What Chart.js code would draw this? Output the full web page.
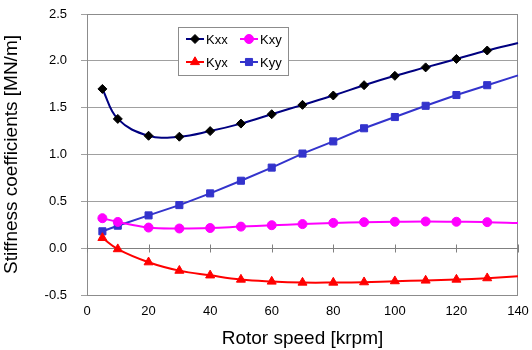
<!DOCTYPE html>
<html>
<head>
<meta charset="utf-8">
<script src="https://cdn.jsdelivr.net/npm/chart.js@4/dist/chart.umd.min.js"></script>
<style>
  html, body { margin: 0; padding: 0; background: #fff; }
  #wrap { width: 532px; height: 350px; position: relative; }
</style>
</head>
<body>
<div id="wrap"><canvas id="c"></canvas></div>
<script>
// Rotor speed [krpm] and stiffness coefficients [MN/m]
const speeds = [5, 10, 20, 30, 40, 50, 60, 70, 80, 90, 100, 110, 120, 130, 140];
const kxx = [1.70, 1.38, 1.20, 1.19, 1.25, 1.33, 1.43, 1.53, 1.63, 1.74, 1.84, 1.93, 2.02, 2.11, 2.19];
const kxy = [0.32, 0.28, 0.22, 0.21, 0.215, 0.23, 0.245, 0.257, 0.27, 0.278, 0.282, 0.285, 0.282, 0.278, 0.268];
const kyx = [0.11, -0.01, -0.15, -0.24, -0.29, -0.335, -0.356, -0.367, -0.367, -0.363, -0.352, -0.345, -0.335, -0.32, -0.30];
const kyy = [0.18, 0.24, 0.35, 0.46, 0.585, 0.72, 0.86, 1.01, 1.14, 1.28, 1.40, 1.52, 1.635, 1.74, 1.845];
const xTickStep = 20;
const yTickStep = 0.5;

const FONT = '"Liberation Sans", Arial, sans-serif';
const lastIdx = speeds.length - 1;

function series(label, values, line, marker, style, radius, tension) {
  return {
    label,
    data: speeds.map((s, i) => ({ x: s, y: values[i] })),
    borderColor: line,
    borderWidth: 2,
    backgroundColor: marker,
    pointBackgroundColor: marker,
    pointBorderColor: marker,
    pointBorderWidth: 1,
    pointStyle: style,
    pointRadius: ctx => (ctx.dataIndex === lastIdx ? 0 : radius),
    pointHoverRadius: radius,
    tension,
    fill: false,
    clip: false
  };
}

// Plot frame, and the zero line with its crossing tick marks
const framePlugin = {
  id: 'frame',
  beforeDatasetsDraw(chart) {
    const { ctx, chartArea: a, scales: { x, y } } = chart;
    ctx.save();
    ctx.strokeStyle = '#8c8c8c';
    ctx.lineWidth = 1;
    ctx.strokeRect(a.left + 0.5, a.top + 0.5, a.right - a.left - 1, a.bottom - a.top);
    const y0 = Math.round(y.getPixelForValue(0)) + 0.5;
    ctx.strokeStyle = '#808080';
    ctx.beginPath();
    ctx.moveTo(a.left, y0);
    ctx.lineTo(a.right, y0);
    x.ticks.forEach(t => {
      const px = Math.round(x.getPixelForValue(t.value)) + 0.5;
      ctx.moveTo(px, y0 - 4);
      ctx.lineTo(px, y0 + 4);
    });
    ctx.stroke();
    ctx.restore();
  }
};

// Boxed two-column legend inside the plot
const legendPlugin = {
  id: 'boxLegend',
  afterDraw(chart) {
    const { ctx, chartArea: a } = chart;
    const bx = a.left + 91, by = a.top + 13, bw = 110, bh = 48;
    ctx.save();
    ctx.fillStyle = '#fff';
    ctx.fillRect(bx, by, bw, bh);
    ctx.strokeStyle = '#8c8c8c';
    ctx.lineWidth = 1;
    ctx.strokeRect(bx + 0.5, by + 0.5, bw, bh);
    ctx.font = '13px ' + FONT;
    ctx.textBaseline = 'middle';
    ctx.textAlign = 'left';
    chart.data.datasets.forEach((ds, i) => {
      const col = i % 2, row = Math.floor(i / 2);
      const lx = bx + 8 + col * 54;
      const ly = by + 12 + row * 23;
      ctx.strokeStyle = ds.borderColor;
      ctx.lineWidth = 2;
      ctx.beginPath();
      ctx.moveTo(lx, ly);
      ctx.lineTo(lx + 18, ly);
      ctx.stroke();
      ctx.fillStyle = ds.pointBackgroundColor;
      ctx.strokeStyle = ds.pointBorderColor;
      ctx.lineWidth = 1;
      Chart.helpers.drawPoint(ctx, { pointStyle: ds.pointStyle, radius: ds.pointHoverRadius, rotation: 0, borderWidth: 1 }, lx + 9, ly);
      ctx.fillStyle = '#000';
      ctx.fillText(ds.label, lx + 20, ly + 1);
    });
    ctx.restore();
  }
};

new Chart(document.getElementById('c'), {
  type: 'line',
  data: {
    datasets: [
      series('Kxx', kxx, '#000080', '#000000', 'rectRot', 4.5, 0.4),
      series('Kxy', kxy, '#ff00ff', '#ff00ff', 'circle', 4.5, 0.4),
      series('Kyx', kyx, '#ff0000', '#ff0000', 'triangle', 5.2, 0.4),
      series('Kyy', kyy, '#3333cc', '#3333cc', 'rect', 5, 0)
    ]
  },
  options: {
    responsive: true,
    maintainAspectRatio: false,
    animation: false,
    events: [],
    layout: { padding: { top: 14, right: 14, bottom: 0, left: 0 } },
    plugins: { legend: { display: false }, tooltip: { enabled: false } },
    scales: {
      x: {
        type: 'linear',
        min: 0,
        max: 140,
        afterFit(s) { s.height = 55; s.paddingLeft = 0; s.paddingRight = 0; },
        border: { display: false },
        grid: { display: true, drawOnChartArea: false, drawTicks: false },
        ticks: { stepSize: xTickStep, padding: 9, color: '#000', font: { family: FONT, size: 13 } },
        title: { display: true, text: 'Rotor speed [krpm]', color: '#000', padding: { top: 0, bottom: 0 }, font: { family: FONT, size: 19 } }
      },
      y: {
        min: -0.5,
        max: 2.5,
        afterFit(s) { s.width = 87; s.paddingTop = 0; s.paddingBottom = 0; },
        border: { display: true, color: '#8c8c8c' },
        grid: { color: '#a0a0a0', tickLength: 6, drawTicks: true },
        ticks: { stepSize: yTickStep, padding: 14, color: '#000', font: { family: FONT, size: 13 }, callback: v => v.toFixed(1) },
        title: { display: true, text: 'Stiffness coefficients [MN/m]', color: '#000', padding: { top: 0, bottom: 0 }, font: { family: FONT, size: 19 } }
      }
    }
  },
  plugins: [framePlugin, legendPlugin]
});
</script>
</body>
</html>
